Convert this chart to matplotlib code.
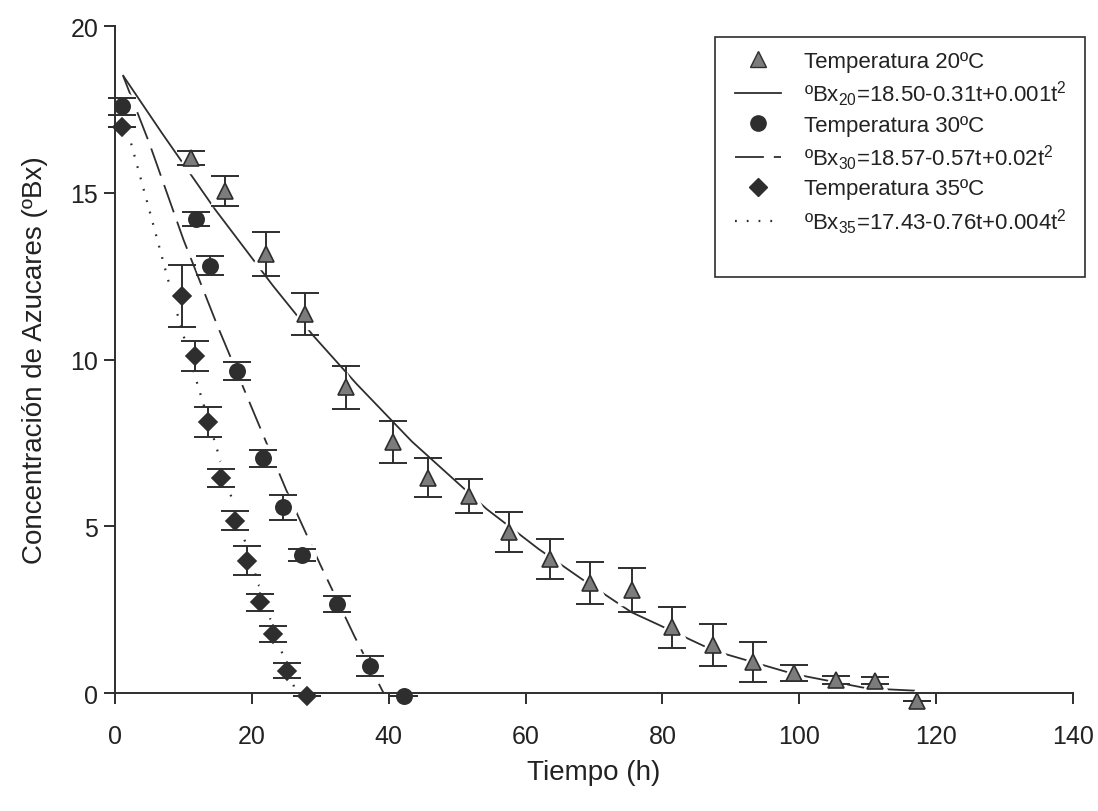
import matplotlib
matplotlib.use('Agg')
import matplotlib.pyplot as plt
from matplotlib.lines import Line2D
from matplotlib.patches import Rectangle

plt.rcParams['font.family'] = ['Liberation Sans', 'DejaVu Sans']
plt.rcParams['mathtext.default'] = 'regular'

# datos medidos (t en horas, concentracion en ºBx, desviacion)
t20 = [11.1, 16.1, 22.0, 27.8, 33.8, 40.7, 45.7, 51.7, 57.6, 63.6,
       69.4, 75.5, 81.4, 87.4, 93.3, 99.3, 105.3, 111.1, 117.2]
bx20 = [16.03, 15.06, 13.16, 11.36, 9.17, 7.54, 6.46, 5.92, 4.82, 4.02,
        3.3, 3.1, 1.97, 1.45, 0.92, 0.6, 0.39, 0.37, -0.23]
err20 = [0.21, 0.45, 0.67, 0.62, 0.65, 0.63, 0.58, 0.51, 0.6, 0.61,
         0.64, 0.66, 0.62, 0.63, 0.6, 0.23, 0.12, 0.1, 0.0]

t30 = [1.0, 11.9, 13.9, 17.8, 21.7, 24.5, 27.3, 32.4, 37.3, 42.2]
bx30 = [17.59, 14.21, 12.81, 9.66, 7.04, 5.57, 4.14, 2.67, 0.82, -0.08]
err30 = [0.25, 0.22, 0.29, 0.27, 0.25, 0.37, 0.18, 0.23, 0.3, 0.0]

t35 = [1.0, 9.75, 11.7, 13.6, 15.45, 17.5, 19.25, 21.2, 23.1, 25.1, 28.0]
bx35 = [16.96, 11.9, 10.11, 8.14, 6.44, 5.17, 3.97, 2.72, 1.77, 0.67, -0.08]
err35 = [0.0, 0.92, 0.46, 0.45, 0.27, 0.28, 0.44, 0.26, 0.23, 0.23, 0.0]

# curvas de ajuste
fit20_t = [1.2, 6.8, 14.6, 23.1, 29.0, 35.3, 43.4, 54.3, 61.9, 68.2,
           75.5, 79.2, 87.5, 99.2, 109.9, 117.0]
fit20_y = [18.51, 16.81, 14.51, 12.21, 10.71, 9.27, 7.54, 5.52, 4.32, 3.42,
           2.42, 2.07, 1.27, 0.57, 0.14, 0.07]
fit30_t = [1.2, 5.0, 10.0, 15.0, 20.0, 25.0, 30.0, 35.0, 40.0]
fit30_y = [18.5, 16.5, 13.6, 11.0, 8.55, 6.1, 3.85, 1.7, -0.3]
fit35_t = [1.0, 5.0, 9.0, 12.0, 15.0, 18.0, 21.0, 24.0, 26.5]
fit35_y = [17.5, 14.5, 11.45, 9.3, 7.25, 5.2, 3.25, 1.45, 0.0]

labels = ['Temperatura 20ºC', 'ºBx$_{20}$=18.50-0.31t+0.001t$^{2}$',
          'Temperatura 30ºC', 'ºBx$_{30}$=18.57-0.57t+0.02t$^{2}$',
          'Temperatura 35ºC', 'ºBx$_{35}$=17.43-0.76t+0.004t$^{2}$']

dark = '#2e2e2e'
grey = '#7c7c7c'
dash30 = (16, 5.5)
dot35 = (0.8, 4.5)

fig = plt.figure(figsize=(10.98, 8.12), dpi=100)
ax = fig.add_axes([0.1047, 0.1453, 0.8725, 0.8214])

ax.plot(fit20_t, fit20_y, '-', color=dark, lw=1.3, zorder=1)
ax.plot(fit30_t, fit30_y, color=dark, lw=1.3, dashes=dash30, zorder=1)
ax.plot(fit35_t, fit35_y, color=dark, lw=1.6, dashes=dot35, zorder=1)

series = [(t20, bx20, err20, '^', grey, 12),
          (t30, bx30, err30, 'o', dark, 11),
          (t35, bx35, err35, 'D', dark, 9.5)]
for t, y, e, m, c, ms in series:
    # halo blanco que corta las curvas alrededor de cada punto
    ax.plot(t, y, m, ms=ms * 1.8, color='white', mec='white', ls='none',
            zorder=2, clip_on=False)
    ax.errorbar(t, y, yerr=e, fmt='none', ecolor=dark, elinewidth=1.4,
                capsize=10, capthick=1.4, zorder=3, clip_on=False)
    ax.plot(t, y, m, ms=ms, color=c, mec=dark, mew=1.2, ls='none',
            zorder=4, clip_on=False)

ax.set_xlim(0, 140)
ax.set_ylim(0, 20)
ax.set_xticks(range(0, 141, 20))
ax.set_yticks(range(0, 21, 5))
ax.spines['top'].set_visible(False)
ax.spines['right'].set_visible(False)
for s in ['left', 'bottom']:
    ax.spines[s].set_linewidth(1.4)
    ax.spines[s].set_color(dark)
ax.tick_params(axis='both', labelsize=18, length=8, width=1.4,
               color=dark, labelcolor='#222222')
ax.tick_params(axis='x', pad=14)
ax.tick_params(axis='y', pad=4)
ax.set_xlabel('Tiempo (h)', fontsize=20, color='#222222', labelpad=8)
ax.set_ylabel('Concentración de Azucares (ºBx)', fontsize=20,
              color='#222222', labelpad=16)

handles = [Line2D([], [], marker='^', ms=11, color=grey, mec=dark, ls='none'),
           Line2D([], [], color=dark, lw=1.3),
           Line2D([], [], marker='o', ms=11, color=dark, mec=dark, ls='none'),
           Line2D([], [], color=dark, lw=1.3, dashes=dash30),
           Line2D([], [], marker='D', ms=9, color=dark, mec=dark, ls='none'),
           Line2D([], [], color=dark, lw=1.6, dashes=dot35)]
leg = ax.legend(handles, labels, loc='upper left',
                bbox_to_anchor=(0.626, 0.993), frameon=False, fontsize=16,
                handlelength=2.1, handletextpad=1.0, labelspacing=0.3,
                borderaxespad=0, borderpad=0.9)
for txt in leg.get_texts():
    txt.set_color('#222222')
ax.add_patch(Rectangle((0.626, 0.624), 0.3865, 0.3595, transform=ax.transAxes,
                       fill=False, ec=dark, lw=1.2, clip_on=False, zorder=5))

fig.savefig('out.png', dpi=100)
